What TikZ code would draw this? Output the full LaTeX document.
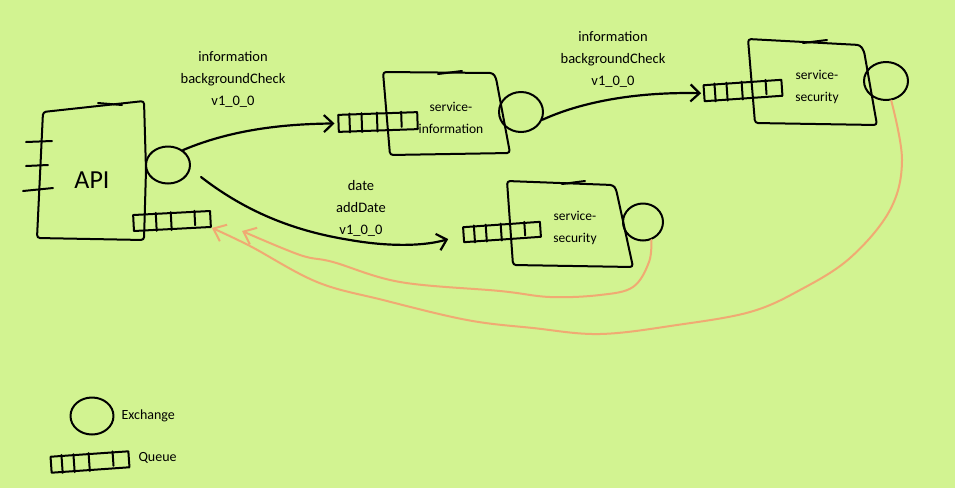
\documentclass[tikz,border=0pt]{standalone}
\usepackage{fontspec}
\setmainfont{Carlito}
\usetikzlibrary{shapes.geometric,arrows.meta,calc}
\definecolor{bg}{RGB}{210,243,145}
\definecolor{ret}{RGB}{240,170,115}
\newcommand\qbars[2][1]{%
  \foreach \f in {0.30,0.49}{\draw[ink] ($(#2.south west)!\f!(#2.south east)$) -- ($(#2.north west)!\f!(#2.north east)$);}
  \ifnum#1=1 \draw[ink] ($(#2.south west)!0.15!(#2.south east)$) -- ($(#2.north west)!0.15!(#2.north east)$);\fi
  \coordinate (#2-t) at ($(#2.north west)!0.79!(#2.north east)$);
  \coordinate (#2-b) at ($(#2.south west)!0.79!(#2.south east)$);
  \draw[ink] (#2-t) -- ($(#2-t)!0.8!(#2-b)$);}
\begin{document}
\begin{tikzpicture}[x=1pt,y=-1pt,
  ink/.style={draw=black,line width=2pt,line cap=round,line join=round},
  exch/.style={ink,ellipse,minimum width=44pt,minimum height=37pt,inner sep=0pt},
  queue/.style={ink,rectangle,minimum width=78pt,minimum height=16pt,inner sep=0pt},
  boxtext/.style={font=\fontsize{13.5}{22}\selectfont,align=center},
  lbl/.style={font=\fontsize{14.5}{22}\selectfont,align=center},
  flow/.style={ink,line width=2.2pt,-{Straight Barb[length=9pt,width=17pt]}},
  back/.style={draw=ret,line width=2pt,line cap=round,-{Straight Barb[length=11pt,width=18pt]}},
  sketch/.style={ink,rounded corners=3pt}]
\fill[bg] (0,0) rectangle (955,488);
\useasboundingbox (0,0) rectangle (955,488);

% API box
\draw[sketch] (43,112) -- (144,101) -- (146,170) -- (144,240) -- (37,238) -- cycle;
\draw[ink] (98,103) -- (122,105);
\draw[ink] (26,142) -- (52,141);
\draw[ink] (26,166) -- (48,165);
\draw[ink] (23,191) -- (53,188);
\node[font=\fontsize{26}{30}\selectfont] (api) at (92,180) {API};

% service-information box
\draw[sketch] (383,72) -- (493,73) -- (496,78) -- (510,153) -- (390,155) -- cycle;
\draw[ink] (438,74) -- (462,71);
\node[boxtext] (info) at (451,118) {service-\\information};

% service-security top box
\draw[sketch] (748,39) -- (860,45) -- (864,51) -- (877,125) -- (755,123) -- cycle;
\draw[ink] (803,43) -- (827,40);
\node[boxtext] (secTop) at (817,86.5) {service-\\security};

% service-security bottom box
\draw[sketch] (507,181) -- (613,185) -- (616,189) -- (633,267) -- (513,265) -- cycle;
\draw[ink] (562,184) -- (585,181);
\node[boxtext] (secBot) at (575,228) {service-\\security};

% exchanges
\node[exch] (apiX) at (168,165) {};
\node[exch,minimum height=40pt] (infoX) at (521,112) {};
\node[exch,minimum height=38pt] (secX) at (886,81) {};
\node[exch,minimum width=40pt] (secbX) at (643,222) {};

% queues
\node[queue,minimum width=77pt,rotate=3] (apiQ) at (172,221) {};
\qbars[0]{apiQ}
\node[queue,minimum width=79pt,minimum height=17pt,rotate=2] (infoQ) at (378,122) {};
\qbars{infoQ}
\node[queue,rotate=4] (secQ) at (743,90.5) {};
\qbars{secQ}
\node[queue,minimum width=77pt,minimum height=15pt,rotate=4] (secbQ) at (502,232) {};
\qbars{secbQ}

% labels
\node[lbl] (l1) at (233,79.5) {information\\backgroundCheck\\v1\_0\_0};
\node[lbl] (l2) at (613,59.5) {information\\backgroundCheck\\v1\_0\_0};
\node[lbl] (l3) at (361,208.5) {date\\addDate\\v1\_0\_0};

% connectors
\draw[flow,shorten >=3pt] (apiX.45) .. controls (235,128) and (290,124) .. (infoQ.west);
\draw[flow,shorten >=2pt] (infoX.-20) .. controls (590,98) and (650,92) .. (secQ.west);
\draw[flow,shorten >=15pt] ($(apiX.east)+(10,12)$) .. controls (250,215) and (300,232) .. (350,240)
  .. controls (390,247) and (425,246) .. (secbQ.west);

% return paths
\draw[back] plot[smooth,tension=0.6] coordinates {(secbX.-65) (649,262) (633,287) (600,295) (550,297) (500,291) (400,282) (333,262) (300,255) (242,231)};
\draw[back] plot[smooth,tension=0.6] coordinates {(secX.-75) (902,160) (890,210) (850,258) (800,290) (750,312) (677,325) (600,334) (533,328) (467,320) (383,300) (317,282) (250,246) (apiQ.south east)};

% legend
\node[exch,minimum width=43pt] (legX) at (92,416) {};
\node[font=\fontsize{14}{16}\selectfont,anchor=west] (legXt) at (118,416) {Exchange};
\node[queue,rotate=4] (legQ) at (90,462) {};
\qbars{legQ}
\node[font=\fontsize{14}{16}\selectfont,anchor=west] (legQt) at (135,458) {Queue};
\end{tikzpicture}
\end{document}
